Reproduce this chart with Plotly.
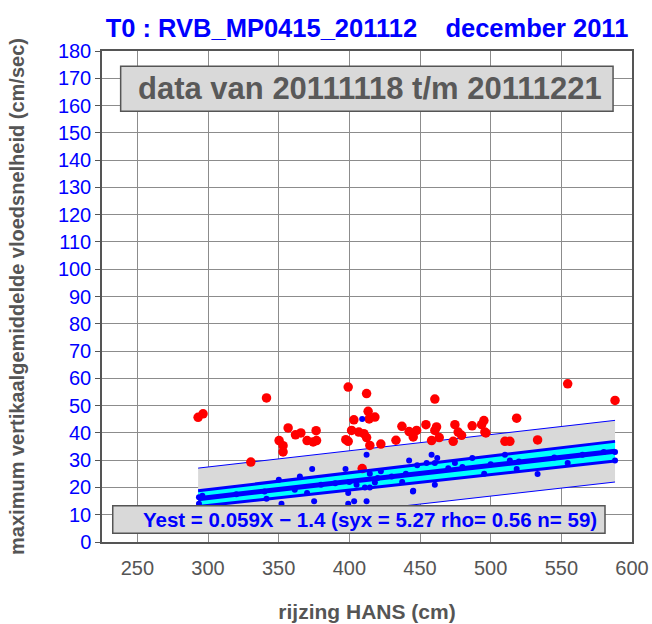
import plotly.graph_objects as go

# ---------------- data ----------------
red_x = [293.0, 296.5, 341.4, 330.3, 356.7, 350.3, 353.1, 353.1, 361.9, 365.7, 370.1, 374.4,
         376.8, 376.5, 399.2, 412.2, 413.3, 418.1, 414.0, 403.2, 397.5, 399.2, 401.6, 406.7,
         410.3, 412.2, 414.5, 422.3, 409.1, 433.0, 437.2, 442.3, 445.2, 447.6, 454.2, 461.7,
         460.5, 463.6, 458.2, 473.5, 474.7, 477.0, 479.4, 486.9, 493.6, 495.2, 495.9, 496.6,
         460.5, 554.5, 518.4, 510.1, 513.6, 533.2, 588.0]
red_y = [45.7, 47.0, 52.8, 29.3, 41.8, 37.2, 35.3, 33.0, 39.3, 40.0, 37.2, 36.7,
         37.2, 40.8, 56.8, 54.4, 47.9, 45.8, 45.1, 44.8, 37.5, 36.9, 40.9, 40.3,
         39.7, 38.3, 35.4, 35.9, 26.9, 37.3, 42.4, 40.5, 38.5, 40.9, 43.0, 42.2,
         40.9, 38.3, 37.2, 36.9, 43.0, 40.3, 39.1, 42.6, 43.0, 44.5, 40.3, 40.0,
         52.4, 58.0, 45.4, 36.9, 36.9, 37.4, 51.9]

blue_x = [293.6, 293.6, 341.4, 350.1, 365.0, 361.4, 370.1, 373.7, 375.1, 397.3, 399.2, 399.2,
          403.4, 405.1, 409.1, 411.0, 412.2, 412.2, 414.5, 414.5, 418.1, 422.3, 437.4, 442.3,
          445.2, 448.0, 454.7, 458.2, 460.5, 460.5, 462.2, 474.7, 487.0, 495.4, 510.1, 513.6,
          518.4, 533.2, 554.5, 588.0, 588.0, 296.0, 320.0, 340.0, 380.0, 390.0, 400.0, 420.0,
          430.0, 440.0, 470.0, 480.0, 500.0, 520.0, 545.0, 565.0, 580.0, 445.0, 352.0]
blue_y = [16.4, 14.0, 15.9, 22.8, 24.0, 19.2, 18.0, 26.8, 14.9, 26.8, 18.0, 14.0,
          14.9, 21.0, 45.1, 20.0, 32.0, 14.9, 25.0, 20.0, 21.8, 25.9, 22.0, 29.9,
          18.8, 28.1, 29.0, 32.0, 29.0, 21.0, 30.8, 29.0, 30.8, 25.0, 32.0, 29.9,
          26.8, 24.9, 29.0, 29.9, 33.0, 17.0, 17.5, 18.5, 21.0, 21.5, 22.0, 23.5,
          24.0, 25.0, 27.0, 27.5, 28.5, 29.5, 31.0, 32.0, 33.0, 18.5, 14.0]

# regression: Yest = slope*X + intercept
fit_x = [293.0, 588.0]
slope = 0.059
intercept = -1.4
ci_half = [2.9, 3.6]      # confidence band half-width at the ends
pi_half = [11.2, 11.3]    # prediction band half-width at the ends

x_ticks = [250, 300, 350, 400, 450, 500, 550, 600]
y_ticks = list(range(0, 181, 10))

title_text = "T0 : RVB_MP0415_201112\u00a0\u00a0\u00a0\u00a0december 2011"
period_text = "data van 20111118 t/m 20111221"
eq_text = "Yest = 0.059X \u2212 1.4 (syx = 5.27 rho= 0.56 n= 59)"

# ---------------- derived ----------------
center = [slope * x + intercept for x in fit_x]
ci_up = [c + h for c, h in zip(center, ci_half)]
ci_lo = [c - h for c, h in zip(center, ci_half)]
pi_up = [c + h for c, h in zip(center, pi_half)]
pi_lo = [c - h for c, h in zip(center, pi_half)]

FONT = "Liberation Sans, Arial, Helvetica, sans-serif"
BLUE = "#0000ff"
GRAY_TXT = "#555555"

fig = go.Figure()

# prediction band
fig.add_trace(go.Scatter(x=fit_x + fit_x[::-1], y=pi_up + pi_lo[::-1], fill="toself",
                         fillcolor="#d9d9d9", line=dict(width=0), mode="lines",
                         hoverinfo="skip", showlegend=False))
for yy in (pi_up, pi_lo):
    fig.add_trace(go.Scatter(x=fit_x, y=yy, mode="lines", line=dict(color=BLUE, width=1),
                             showlegend=False))
# confidence band
fig.add_trace(go.Scatter(x=fit_x + fit_x[::-1], y=ci_up + ci_lo[::-1], fill="toself",
                         fillcolor="#00ffff", line=dict(width=0), mode="lines",
                         hoverinfo="skip", showlegend=False))

# points
fig.add_trace(go.Scatter(x=red_x, y=red_y, mode="markers",
                         marker=dict(color="#ff0000", size=9.5, line=dict(width=0)),
                         showlegend=False))
fig.add_trace(go.Scatter(x=blue_x, y=blue_y, mode="markers",
                         marker=dict(color=BLUE, size=6, line=dict(width=0)),
                         showlegend=False))

for yy in (ci_up, ci_lo):
    fig.add_trace(go.Scatter(x=fit_x, y=yy, mode="lines", line=dict(color=BLUE, width=3),
                             showlegend=False))
fig.add_trace(go.Scatter(x=fit_x, y=center, mode="lines", line=dict(color=BLUE, width=5),
                         showlegend=False))

# boxes
fig.add_shape(type="rect", xref="x", yref="y", x0=238.2, x1=586.6, y0=157.9, y1=174.4,
              fillcolor="#d9d9d9", line=dict(color="#555555", width=1.5), layer="above")
fig.add_shape(type="rect", xref="x", yref="y", x0=232.6, x1=580.9, y0=3.2, y1=13.3,
              fillcolor="#d9d9d9", line=dict(color="#555555", width=1.5), layer="above")

fig.add_annotation(x=580.2, y=166.1, xref="x", yref="y", text=period_text, showarrow=False,
                   xanchor="right", yanchor="middle",
                   font=dict(family=FONT, size=31, color="#595959", weight="bold"))
fig.add_annotation(x=577.0, y=8.25, xref="x", yref="y", text=eq_text, showarrow=False,
                   xanchor="right", yanchor="middle",
                   font=dict(family=FONT, size=20.5, color=BLUE, weight="bold"))

fig.update_layout(
    width=652, height=624,
    margin=dict(l=102, r=20, t=51, b=82, autoexpand=False),
    paper_bgcolor="white", plot_bgcolor="white",
    title=dict(text=title_text, x=(102 + 632) / 2 / 652, xanchor="center",
               y=1 - 28 / 624, yanchor="middle", yref="container",
               font=dict(family=FONT, size=25.5, color=BLUE, weight="bold")),
    xaxis=dict(range=[225, 600], tickmode="array", tickvals=x_ticks,
               ticktext=[str(v) for v in x_ticks],
               showgrid=True, gridcolor="#8c8c8c", gridwidth=1,
               showline=True, linecolor="#555555", linewidth=1.5, mirror=True,
               zeroline=False, ticks="", ticklabelstandoff=7,
               tickfont=dict(family=FONT, size=20, color=GRAY_TXT),
               title=dict(text="rijzing HANS (cm)", standoff=27,
                          font=dict(family=FONT, size=21, color=GRAY_TXT, weight="bold"))),
    yaxis=dict(range=[0, 180], tickmode="array", tickvals=y_ticks,
               ticktext=[str(v) for v in y_ticks],
               showgrid=True, gridcolor="#8c8c8c", gridwidth=1,
               showline=True, linecolor="#555555", linewidth=1.5, mirror=True,
               zeroline=False, ticks="outside", ticklen=5, tickcolor="#555555",
               tickfont=dict(family=FONT, size=20, color=BLUE),
               title=dict(text="maximum vertikaalgemiddelde vloedsnelheid (cm/sec)", standoff=28,
                          font=dict(family=FONT, size=20, color=GRAY_TXT, weight="bold"))),
)

fig.write_html("out.html", config={"displayModeBar": False},
               post_script="document.body.style.margin='0';document.body.style.padding='0';")
